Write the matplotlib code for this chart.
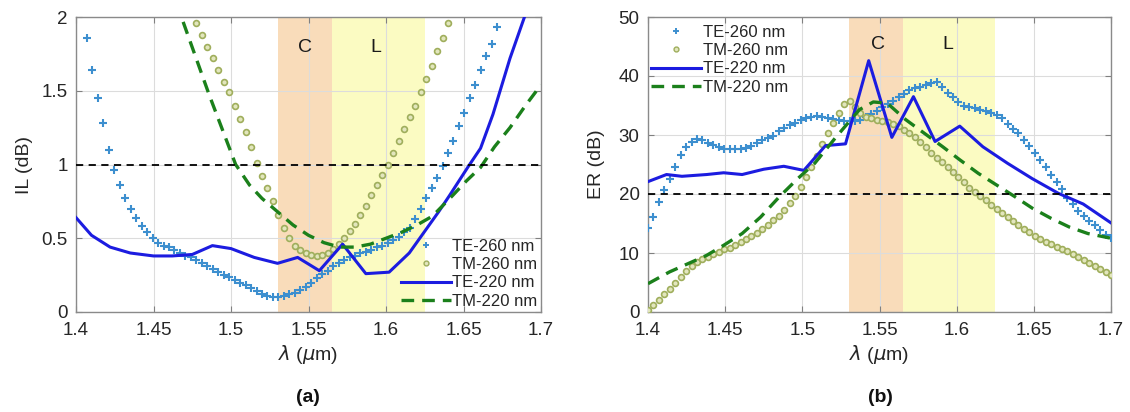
import numpy as np
import matplotlib
matplotlib.use("Agg")
import matplotlib.pyplot as plt
from matplotlib.lines import Line2D

plt.rcParams['font.family'] = ['Liberation Sans', 'DejaVu Sans']
plt.rcParams['mathtext.fontset'] = 'dejavusans'

nan = np.nan
# wavelength grid of the sampled (marker) series, in um
wl = np.linspace(1.4, 1.7, 86)

# ---------------- (a) insertion loss, dB ----------------
il_te260 = [nan, nan, 1.86, 1.64, 1.45, 1.28, 1.10, 0.96, 0.86, 0.77,
            0.70, 0.64, 0.58, 0.54, 0.50, 0.47, 0.45, 0.44, 0.42, 0.40,
            0.38, 0.37, 0.35, 0.33, 0.31, 0.29, 0.27, 0.25, 0.24, 0.22,
            0.20, 0.18, 0.16, 0.14, 0.12, 0.11, 0.10, 0.10, 0.11, 0.12,
            0.13, 0.15, 0.17, 0.20, 0.23, 0.26, 0.28, 0.31, 0.33, 0.35,
            0.37, 0.38, 0.40, 0.41, 0.42, 0.44, 0.45, 0.47, 0.49, 0.51,
            0.54, 0.57, 0.63, 0.70, 0.77, 0.84, 0.91, 0.99, 1.08, 1.16,
            1.26, 1.35, 1.45, 1.54, 1.64, 1.735, 1.82, 1.93,
            nan, nan, nan, nan, nan, nan, nan, nan]

il_tm260 = [nan] * 22 + [
    1.96, 1.88, 1.80, 1.72, 1.64, 1.56, 1.49, 1.40, 1.31, 1.22,
    1.12, 1.01, 0.92, 0.84, 0.75, 0.66, 0.57, 0.50, 0.45, 0.42,
    0.40, 0.385, 0.38, 0.385, 0.40, 0.43, 0.46, 0.50, 0.55, 0.60,
    0.66, 0.72, 0.79, 0.86, 0.93, 1.00, 1.08, 1.16, 1.24, 1.32,
    1.40, 1.49, 1.58, 1.67, 1.77, 1.86, 1.96] + [nan] * 17

il_te220_wl = [1.400, 1.410, 1.422, 1.435, 1.450, 1.462, 1.475, 1.488, 1.500,
               1.515, 1.530, 1.543, 1.557, 1.572, 1.587, 1.602, 1.615, 1.634,
               1.641, 1.649, 1.653, 1.661, 1.669, 1.680, 1.690, 1.695]
il_te220 = [0.64, 0.52, 0.44, 0.40, 0.38, 0.38, 0.39, 0.45, 0.43,
            0.37, 0.33, 0.37, 0.28, 0.46, 0.26, 0.27, 0.40, 0.68,
            0.79, 0.92, 0.985, 1.11, 1.34, 1.72, 2.02, 2.15]

il_tm220_wl = [1.465, 1.468, 1.486, 1.503, 1.512, 1.520, 1.530, 1.540, 1.550,
               1.560, 1.570, 1.580, 1.590, 1.600, 1.610, 1.620, 1.630, 1.643,
               1.652, 1.661, 1.670, 1.680, 1.690, 1.700]
il_tm220 = [2.10, 2.00, 1.47, 1.00, 0.86, 0.77, 0.68, 0.59, 0.52,
            0.47, 0.44, 0.44, 0.46, 0.50, 0.54, 0.59, 0.65, 0.79,
            0.89, 0.98, 1.12, 1.25, 1.40, 1.54]

# ---------------- (b) extinction ratio, dB ----------------
er_te260 = [14.3, 16.1, 18.6, 20.6, 22.5, 24.6, 26.6, 27.9, 28.8, 29.3,
            29.2, 28.7, 28.3, 27.9, 27.7, 27.6, 27.6, 27.6, 27.8, 28.1,
            28.6, 29.1, 29.5, 29.9, 30.6, 31.2, 31.7, 32.1, 32.6, 32.9,
            33.1, 33.2, 33.1, 32.9, 32.7, 32.5, 32.4, 32.4, 32.3, 32.6,
            33.1, 33.6, 34.1, 34.7, 35.3, 35.8, 36.4, 37.0, 37.7, 38.0,
            38.2, 38.4, 38.8, 39.0, 38.2, 37.2, 36.4, 35.6, 35.0, 34.7,
            34.5, 34.3, 34.0, 33.7, 33.4, 32.8, 31.9, 31.1, 30.3, 29.1,
            28.1, 26.9, 25.8, 24.5, 23.2, 22.0, 20.8, 19.4, 18.3, 17.2,
            16.3, 15.5, 14.7, 13.9, 13.1, 12.5]

er_tm260 = [0.3, 1.2, 2.1, 3.0, 3.9, 4.9, 5.9, 7.0, 7.8, 8.4,
            8.9, 9.3, 9.8, 10.2, 10.6, 10.9, 11.3, 11.8, 12.3, 12.8,
            13.4, 14.1, 14.8, 15.6, 16.3, 17.3, 18.4, 19.6, 21.2, 22.9,
            24.6, 26.4, 28.5, 30.4, 32.0, 33.8, 35.2, 35.8, 34.8, 33.7,
            33.1, 32.8, 32.6, 32.4, 32.2, 31.9, 31.5, 30.9, 30.3, 29.6,
            28.8, 27.9, 27.0, 26.1, 25.4, 24.6, 23.8, 22.9, 22.0, 21.1,
            20.3, 19.6, 18.9, 18.2, 17.5, 16.8, 16.1, 15.4, 14.7, 14.1,
            13.5, 12.9, 12.4, 11.9, 11.5, 11.1, 10.7, 10.3, 9.8, 9.3,
            8.8, 8.3, 7.8, 7.3, 6.8, 6.3]

er_te220_wl = [1.400, 1.412, 1.422, 1.438, 1.449, 1.461, 1.475, 1.488, 1.501,
               1.515, 1.528, 1.543, 1.558, 1.572, 1.586, 1.602, 1.617, 1.633,
               1.649, 1.666, 1.682, 1.700]
er_te220 = [22.1, 23.3, 23.0, 23.3, 23.6, 23.3, 24.2, 24.7, 24.0,
            28.2, 28.5, 42.6, 29.6, 36.5, 28.9, 31.5, 28.0, 25.2,
            22.6, 20.1, 18.3, 15.1]

er_tm220_wl = [1.400, 1.414, 1.426, 1.438, 1.449, 1.461, 1.473, 1.485, 1.497,
               1.508, 1.522, 1.537, 1.546, 1.555, 1.567, 1.579, 1.591, 1.602,
               1.614, 1.626, 1.638, 1.649, 1.661, 1.673, 1.685, 1.700]
er_tm220 = [4.8, 6.8, 8.2, 9.6, 11.3, 13.3, 16.1, 19.5, 22.6,
            25.2, 29.7, 34.3, 35.6, 35.4, 32.6, 30.3, 28.0, 25.8,
            23.5, 21.5, 19.5, 17.6, 15.9, 14.4, 13.3, 12.5]

labels = ['TE-260 nm', 'TM-260 nm', 'TE-220 nm', 'TM-220 nm']
xticks = [1.4, 1.45, 1.5, 1.55, 1.6, 1.65, 1.7]
xticklabels = ['1.4', '1.45', '1.5', '1.55', '1.6', '1.65', '1.7']

C_TE260 = '#3d8fcf'
C_TM260_E = '#9fae5c'
C_TM260_F = '#e2e6bd'
C_TE220 = '#1c1ce0'
C_TM220 = '#1b801b'
C_BAND = '#f9dcba'
L_BAND = '#fbfbc2'
TXT = '#262626'

fig = plt.figure(figsize=(11.3, 4.12), dpi=100)
axA = fig.add_axes([76 / 1130, 100 / 412, 465 / 1130, 295 / 412])
axB = fig.add_axes([648 / 1130, 100 / 412, 463 / 1130, 295 / 412])


def style(ax, ylim, yticks, yticklabels, ylabel, ylabelpad):
    ax.axvspan(1.53, 1.565, color=C_BAND, lw=0, zorder=1)
    ax.axvspan(1.565, 1.625, color=L_BAND, lw=0, zorder=1)
    ax.set_xlim(1.4, 1.7)
    ax.set_ylim(*ylim)
    ax.set_xticks(xticks)
    ax.set_xticklabels(xticklabels)
    ax.set_yticks(yticks)
    ax.set_yticklabels(yticklabels)
    ax.set_axisbelow('line')
    ax.grid(True, color='#dcdcdc', lw=0.8)
    ax.tick_params(direction='in', length=4, width=0.8, colors='#808080',
                   labelcolor=TXT, labelsize=13.5, top=True, right=True)
    ax.tick_params(axis='x', pad=7)
    ax.tick_params(axis='y', pad=6)
    for s in ax.spines.values():
        s.set_color('#8a8a8a')
        s.set_linewidth(1.0)
    ax.set_xlabel(r'$\lambda$ ($\mu$m)', fontsize=14, color=TXT, labelpad=3)
    ax.set_ylabel(ylabel, fontsize=14, color=TXT, labelpad=ylabelpad)


def draw(ax, te260, tm260, te220_wl, te220, tm220_wl, tm220, thr):
    ax.plot(wl, te260, ls='none', marker='+', ms=6, mew=1.5, color=C_TE260, zorder=3)
    ax.plot(wl, tm260, ls='none', marker='o', ms=4.2, mew=1.2,
            mec=C_TM260_E, mfc=C_TM260_F, zorder=3)
    ax.plot(te220_wl, te220, color=C_TE220, lw=2.2, zorder=4)
    ax.plot(tm220_wl, tm220, color=C_TM220, lw=2.4, dashes=(3.8, 2.4), zorder=4)
    ax.axhline(thr, color='black', lw=1.3, dashes=(4, 3), zorder=5)


style(axA, (0, 2), [0, 0.5, 1, 1.5, 2], ['0', '0.5', '1', '1.5', '2'], 'IL (dB)', 6)
draw(axA, il_te260, il_tm260, il_te220_wl, il_te220, il_tm220_wl, il_tm220, 1.0)
style(axB, (0, 50), [0, 10, 20, 30, 40, 50], ['0', '10', '20', '30', '40', '50'], 'ER (dB)', 10)
draw(axB, er_te260, er_tm260, er_te220_wl, er_te220, er_tm220_wl, er_tm220, 20.0)

axA.text(1.548, 1.79, 'C', fontsize=14, color='#1a1a1a', ha='center', va='center', zorder=6)
axA.text(1.5935, 1.79, 'L', fontsize=14, color='#1a1a1a', ha='center', va='center', zorder=6)
axB.text(1.549, 45.3, 'C', fontsize=14, color='#1a1a1a', ha='center', va='center', zorder=6)
axB.text(1.594, 45.3, 'L', fontsize=14, color='#1a1a1a', ha='center', va='center', zorder=6)

handles = [
    Line2D([], [], ls='none', marker='+', ms=5, mew=1.4, color=C_TE260),
    Line2D([], [], ls='none', marker='o', ms=3.5, mew=1.0, mec=C_TM260_E, mfc=C_TM260_F),
    Line2D([], [], color=C_TE220, lw=2.2),
    Line2D([], [], color=C_TM220, lw=2.4, dashes=(3.8, 2.4)),
]
legkw = dict(frameon=False, fontsize=12, handlelength=3.0, handletextpad=0.1,
             labelspacing=0.2, borderaxespad=0.0, borderpad=0.2)
for t in axA.legend(handles, labels, loc='lower right', bbox_to_anchor=(1.0, 0.0), **legkw).get_texts():
    t.set_color(TXT)
for t in axB.legend(handles, labels, loc='upper left', bbox_to_anchor=(0.0, 0.985), **legkw).get_texts():
    t.set_color(TXT)

fig.text(308 / 1130, 1 - 397 / 412, '(a)', fontsize=14, fontweight='bold', ha='center', va='center', color='#111111')
fig.text(880 / 1130, 1 - 397 / 412, '(b)', fontsize=14, fontweight='bold', ha='center', va='center', color='#111111')

fig.savefig('out.png', dpi=100)
